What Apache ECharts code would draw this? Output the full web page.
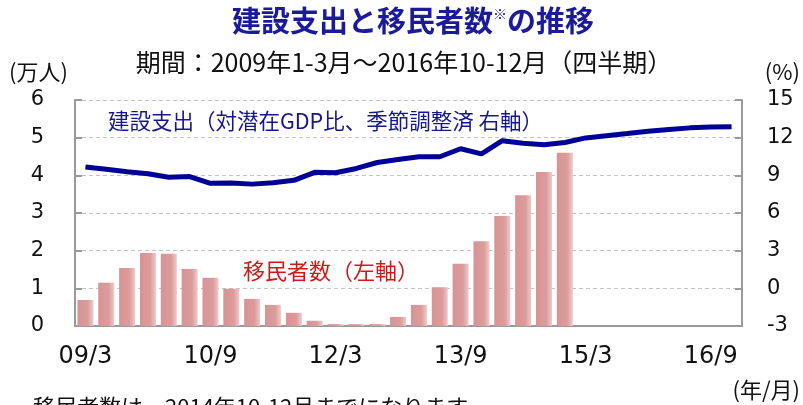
<!DOCTYPE html>
<html>
<head>
<meta charset="utf-8">
<script src="https://cdn.jsdelivr.net/npm/echarts@6/dist/echarts.min.js"></script>
<style>
html,body{margin:0;padding:0;background:#fff;}
#c{width:803px;height:405px;}
</style>
</head>
<body>
<div id="c"></div>
<script>
var categories = ['09/3','09/6','09/9','09/12','10/3','10/6','10/9','10/12',
  '11/3','11/6','11/9','11/12','12/3','12/6','12/9','12/12',
  '13/3','13/6','13/9','13/12','14/3','14/6','14/9','14/12',
  '15/3','15/6','15/9','15/12','16/3','16/6','16/9','16/12'];
// 移民者数（万人, 左軸）: 2009Q1–2014Q4
var immigrants = [0.69,1.15,1.54,1.94,1.92,1.51,1.28,0.99,
  0.72,0.56,0.35,0.14,0.05,0.05,0.05,0.24,
  0.56,1.03,1.65,2.25,2.92,3.47,4.09,4.60];
// 建設支出（対潜在GDP比 %, 右軸）: 2009Q1–2016Q4
var construction = [9.66,9.48,9.28,9.13,8.85,8.90,8.36,8.39,
  8.30,8.41,8.60,9.24,9.21,9.55,10.02,10.26,
  10.48,10.48,11.12,10.71,11.76,11.56,11.44,11.62,
  11.98,12.16,12.33,12.51,12.65,12.78,12.84,12.87];
var leftTicks = {min:0, max:6, interval:1};
var rightTicks = {min:-3, max:15, interval:3};

var chart = echarts.init(document.getElementById('c'), null, {renderer:'canvas'});
var axisFont = 'DejaVu Sans';
var cjk = '"Noto Sans CJK JP", sans-serif';
var gray = '#9a9a9a';
chart.setOption({
  animation:false,
  grid:{left:75, right:61, top:100, bottom:79},
  xAxis:{
    type:'category', data:categories, boundaryGap:true,
    axisLine:{lineStyle:{color:gray, width:2}},
    axisTick:{inside:true, length:7, interval:5, lineStyle:{color:gray, width:2}},
    axisLabel:{interval:5, fontFamily:axisFont, fontSize:24, color:'#111', margin:19},
    splitLine:{show:false}
  },
  yAxis:[{
    type:'value', min:leftTicks.min, max:leftTicks.max, interval:leftTicks.interval,
    axisLine:{show:true, lineStyle:{color:gray, width:2}},
    axisTick:{show:true, inside:true, length:7, lineStyle:{color:gray, width:2}},
    axisLabel:{fontFamily:axisFont, fontSize:21, color:'#111', margin:31},
    splitLine:{show:true, lineStyle:{color:'#c4c4c4', type:[4,3], width:1}}
  },{
    type:'value', min:rightTicks.min, max:rightTicks.max, interval:rightTicks.interval,
    position:'right',
    axisLine:{show:true, lineStyle:{color:gray, width:2}},
    axisTick:{show:true, inside:true, length:7, lineStyle:{color:gray, width:2}},
    axisLabel:{fontFamily:axisFont, fontSize:21, color:'#111', margin:25},
    splitLine:{show:false}
  }],
  series:[{
    type:'bar', yAxisIndex:0, data:immigrants, barWidth:16,
    itemStyle:{color:new echarts.graphic.LinearGradient(0,0,1,0,[
      {offset:0,color:'#d89393'},{offset:0.65,color:'#dc9c9c'},{offset:1,color:'#efcaca'}])}
  },{
    type:'line', yAxisIndex:1, data:construction, symbol:'none', z:5,
    lineStyle:{color:'#000099', width:5}
  }],
  graphic:[
    {type:'text', x:413, y:21, style:{
      text:'{a|建設支出と移民者数}{b|※}{a|の推移}', textAlign:'center', textVerticalAlign:'middle',
      rich:{a:{fontFamily:cjk, fontSize:29, fontWeight:'bold', fill:'#1a1a9a'},
            b:{fontFamily:cjk, fontSize:14, fontWeight:'bold', fill:'#1a1a9a', verticalAlign:'top', padding:[0,0,12,0]}}
    }},
    {type:'text', x:404, y:62, style:{text:'期間：2009年1-3月～2016年10-12月（四半期）', font:'25px '+cjk, fill:'#111', textAlign:'center', textVerticalAlign:'middle'}},
    {type:'text', x:9, y:72, style:{text:'(万人)', font:'22px '+cjk, fill:'#111', textAlign:'left', textVerticalAlign:'middle'}},
    {type:'text', x:800, y:72, style:{text:'(%)', font:'22px '+cjk, fill:'#111', textAlign:'right', textVerticalAlign:'middle'}},
    {type:'text', x:800, y:390, style:{text:'(年/月)', font:'22px '+cjk, fill:'#111', textAlign:'right', textVerticalAlign:'middle'}},
    {type:'text', x:108, y:121, style:{text:'建設支出（対潜在GDP比、季節調整済 右軸）', font:'21.5px '+cjk, fill:'#16168e', textAlign:'left', textVerticalAlign:'middle'}},
    {type:'text', x:243, y:271, style:{text:'移民者数（左軸）', font:'22px '+cjk, fill:'#d01818', textAlign:'left', textVerticalAlign:'middle'}},
    {type:'text', x:33, y:407, style:{text:'移民者数は、2014年10-12月までになります。', font:'22px '+cjk, fill:'#111', textAlign:'left', textVerticalAlign:'middle'}}
  ]
});
</script>
</body>
</html>
